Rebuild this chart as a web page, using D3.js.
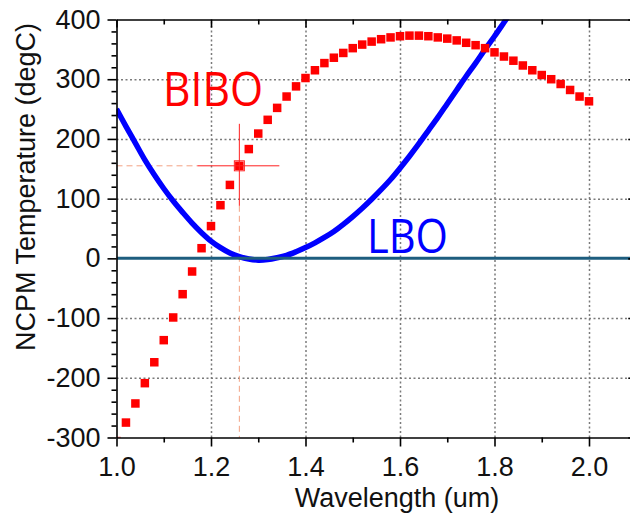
<!DOCTYPE html>
<html><head><meta charset="utf-8">
<script src="https://cdn.jsdelivr.net/npm/d3@7"></script>
<style>
body{margin:0;background:#fff;}
svg{display:block;}
text{font-family:"Liberation Sans",Arial,sans-serif;}
</style>
</head><body>
<svg id="chart" width="630" height="518"></svg>
<script>
// ---- data ----
const biboWavelength = [1.00,1.02,1.04,1.06,1.08,1.10,1.12,1.14,1.16,1.18,1.20,1.22,1.24,1.26,1.28,1.30,1.32,1.34,1.36,1.38,1.40,1.42,1.44,1.46,1.48,1.50,1.52,1.54,1.56,1.58,1.60,1.62,1.64,1.66,1.68,1.70,1.72,1.74,1.76,1.78,1.80,1.82,1.84,1.86,1.88,1.90,1.92,1.94,1.96,1.98,2.00];
const biboTemperature = [-306,-275,-243,-209,-174,-137,-99,-60,-22,17,54,89,123,155,183,209,232,252,271,288,302,315,327,336,344,352,358,363,367,370,372,373,373,372,370,368,365,361,357,352,345,338,331,323,315,307,300,292,282,271,263];
const lboWavelength = [1.00,1.02,1.04,1.06,1.08,1.10,1.12,1.14,1.16,1.18,1.20,1.22,1.24,1.26,1.28,1.30,1.32,1.34,1.36,1.38,1.40,1.42,1.44,1.46,1.48,1.50,1.52,1.54,1.56,1.58,1.60,1.62,1.64,1.66,1.68,1.70,1.72,1.74,1.76,1.78,1.80,1.82,1.84];
const lboTemperature = [250,221,193,165,140,117,96,77,59,43,29,18,9,3,-1,-3,-2,1,5,11,18,26,35,45,57,70,84,99,115,132,151,171,192,214,236,259,282,305,327,350,372,395,418];
const xTickValues = [1.0,1.2,1.4,1.6,1.8,2.0];
const xMinorTickValues = [1.1,1.3,1.5,1.7,1.9];
const yTickValues = [-300,-200,-100,0,100,200,300,400];
const yMinorTickValues = [-280,-260,-240,-220,-180,-160,-140,-120,-80,-60,-40,-20,20,40,60,80,120,140,160,180,220,240,260,280,320,340,360,380];
const xGridValues = [1.2,1.4,1.6,1.8,2.0];
const yGridValues = [-200,-100,100,200,300];
const zeroLineValue = 0;
const cursorWavelength = 1.26;
const cursorTemperature = 155;
const seriesLabels = ["BIBO","LBO"];
const xTitle = "Wavelength (um)";
const yTitle = "NCPM Temperature (degC)";

// ---- chart ----
const svg = d3.select("#chart");
const x = d3.scaleLinear().domain([1.0, 2.1]).range([116.5, 636.25]);
const y = d3.scaleLinear().domain([-300, 400]).range([437.5, 19.5]);
const x0 = x.range()[0], x1 = x.range()[1], yb = y.range()[0], yt = y.range()[1];

svg.append("defs").append("clipPath").attr("id","plotclip")
  .append("rect").attr("x",x0).attr("y",yt).attr("width",x1-x0).attr("height",yb-yt);

// grid
const gridStroke = "#7a7a7a";
const gridX = svg.append("g").attr("class","gridx").attr("transform",`translate(0,${yb})`)
  .call(d3.axisBottom(x).tickValues(xGridValues).tickFormat("").tickSize(-(yb-yt)).tickSizeOuter(0));
gridX.select("path.domain").remove();
gridX.selectAll(".tick line").attr("stroke",gridStroke).attr("stroke-width",1.5).attr("stroke-dasharray","2,2.5");
const gridY = svg.append("g").attr("class","gridy").attr("transform",`translate(${x0},0)`)
  .call(d3.axisLeft(y).tickValues(yGridValues).tickFormat("").tickSize(-(x1-x0)).tickSizeOuter(0));
gridY.select("path.domain").remove();
gridY.selectAll(".tick line").attr("stroke",gridStroke).attr("stroke-width",1.5).attr("stroke-dasharray","2,2.5");

// cursor dashed lines
const cx = x(cursorWavelength), cy = y(cursorTemperature);
const peach = "#f3a283";
svg.append("line").attr("x1",x0).attr("x2",cx-42).attr("y1",cy).attr("y2",cy)
  .attr("stroke",peach).attr("stroke-width",1).attr("stroke-dasharray","6,4");
svg.append("line").attr("x1",cx).attr("x2",cx).attr("y1",cy+40).attr("y2",yb)
  .attr("stroke",peach).attr("stroke-width",1).attr("stroke-dasharray","6,4");

const plot = svg.append("g").attr("clip-path","url(#plotclip)");

// LBO curve
const lboData = lboWavelength.map((w,i)=>[w,lboTemperature[i]]);
plot.append("path").datum(lboData)
  .attr("d", d3.line().x(d=>x(d[0])).y(d=>y(d[1])).curve(d3.curveCatmullRom))
  .attr("fill","none").attr("stroke","#0000ff").attr("stroke-width",5.5);

// zero line
plot.append("line").attr("x1",x0).attr("x2",x1).attr("y1",y(zeroLineValue)).attr("y2",y(zeroLineValue))
  .attr("stroke","#1d5d7e").attr("stroke-width",3);

// BIBO markers
const ms = 8.5;
plot.selectAll("rect.bibo").data(biboWavelength.map((w,i)=>[w,biboTemperature[i]])).enter().append("rect")
  .attr("class","bibo")
  .attr("x",d=>x(d[0])-ms/2).attr("y",d=>y(d[1])-ms/2).attr("width",ms).attr("height",ms)
  .attr("fill","#ff0000");

// cursor solid
svg.append("line").attr("x1",cx-42).attr("x2",cx+40).attr("y1",cy).attr("y2",cy).attr("stroke","#ff2020").attr("stroke-width",1);
svg.append("line").attr("x1",cx).attr("x2",cx).attr("y1",cy-42).attr("y2",cy+40).attr("stroke","#ff2020").attr("stroke-width",1);
svg.append("rect").attr("x",cx-5).attr("y",cy-5).attr("width",10).attr("height",10)
  .attr("fill","none").attr("stroke","#ff2020").attr("stroke-width",1);

// series labels
svg.append("text").attr("x",163).attr("y",106).attr("fill","#ff0000")
  .style("font-family","'Open Sans','Noto Sans',sans-serif").style("font-size","47px")
  .attr("textLength",100).attr("lengthAdjust","spacingAndGlyphs").text(seriesLabels[0]);
svg.append("text").attr("x",367).attr("y",253).attr("fill","#0000ff")
  .style("font-family","'Open Sans','Noto Sans',sans-serif").style("font-size","47px")
  .attr("textLength",81).attr("lengthAdjust","spacingAndGlyphs").text(seriesLabels[1]);

// axes
const fs = "27px";
function styleAxis(g){
  g.selectAll("path.domain").attr("stroke","#000").attr("stroke-width",1.6);
  g.selectAll(".tick line").attr("stroke","#000").attr("stroke-width",1.6);
  g.selectAll("text").style("font-size",fs).attr("fill","#111")
    .style("font-family","'Liberation Sans',Arial,sans-serif");
}
// bottom
const gb = svg.append("g").attr("transform",`translate(0,${yb})`)
  .call(d3.axisBottom(x).tickValues(xTickValues).tickFormat(d3.format(".1f")).tickSize(9).tickSizeOuter(0).tickPadding(10));
styleAxis(gb);
const gbm = svg.append("g").attr("transform",`translate(0,${yb})`)
  .call(d3.axisBottom(x).tickValues(xMinorTickValues).tickFormat("").tickSize(5).tickSizeOuter(0));
styleAxis(gbm); gbm.select("path.domain").remove();
// top
const gt = svg.append("g").attr("transform",`translate(0,${yt})`)
  .call(d3.axisBottom(x).tickValues(xTickValues).tickFormat("").tickSize(8).tickSizeOuter(0));
styleAxis(gt);
const gtm = svg.append("g").attr("transform",`translate(0,${yt})`)
  .call(d3.axisBottom(x).tickValues(xMinorTickValues).tickFormat("").tickSize(5).tickSizeOuter(0));
styleAxis(gtm); gtm.select("path.domain").remove();
// left
const gl = svg.append("g").attr("transform",`translate(${x0},0)`)
  .call(d3.axisLeft(y).tickValues(yTickValues).tickSize(9).tickSizeOuter(0).tickPadding(7));
styleAxis(gl);
gl.selectAll("text").text(d=>d<0 ? "-"+Math.abs(d) : d);
const glm = svg.append("g").attr("transform",`translate(${x0},0)`)
  .call(d3.axisLeft(y).tickValues(yMinorTickValues).tickFormat("").tickSize(5).tickSizeOuter(0));
styleAxis(glm); glm.select("path.domain").remove();
// right
const gr = svg.append("g").attr("transform",`translate(${x1},0)`)
  .call(d3.axisLeft(y).tickValues(yTickValues).tickFormat("").tickSize(8).tickSizeOuter(0));
styleAxis(gr);

// titles
svg.append("text").attr("x",397).attr("y",507).attr("text-anchor","middle")
  .style("font-size",fs).attr("fill","#111").text(xTitle);
svg.append("text").attr("transform","translate(35,187) rotate(-90)").attr("text-anchor","middle")
  .style("font-size",fs).attr("fill","#111").text(yTitle);
</script>
</body></html>
